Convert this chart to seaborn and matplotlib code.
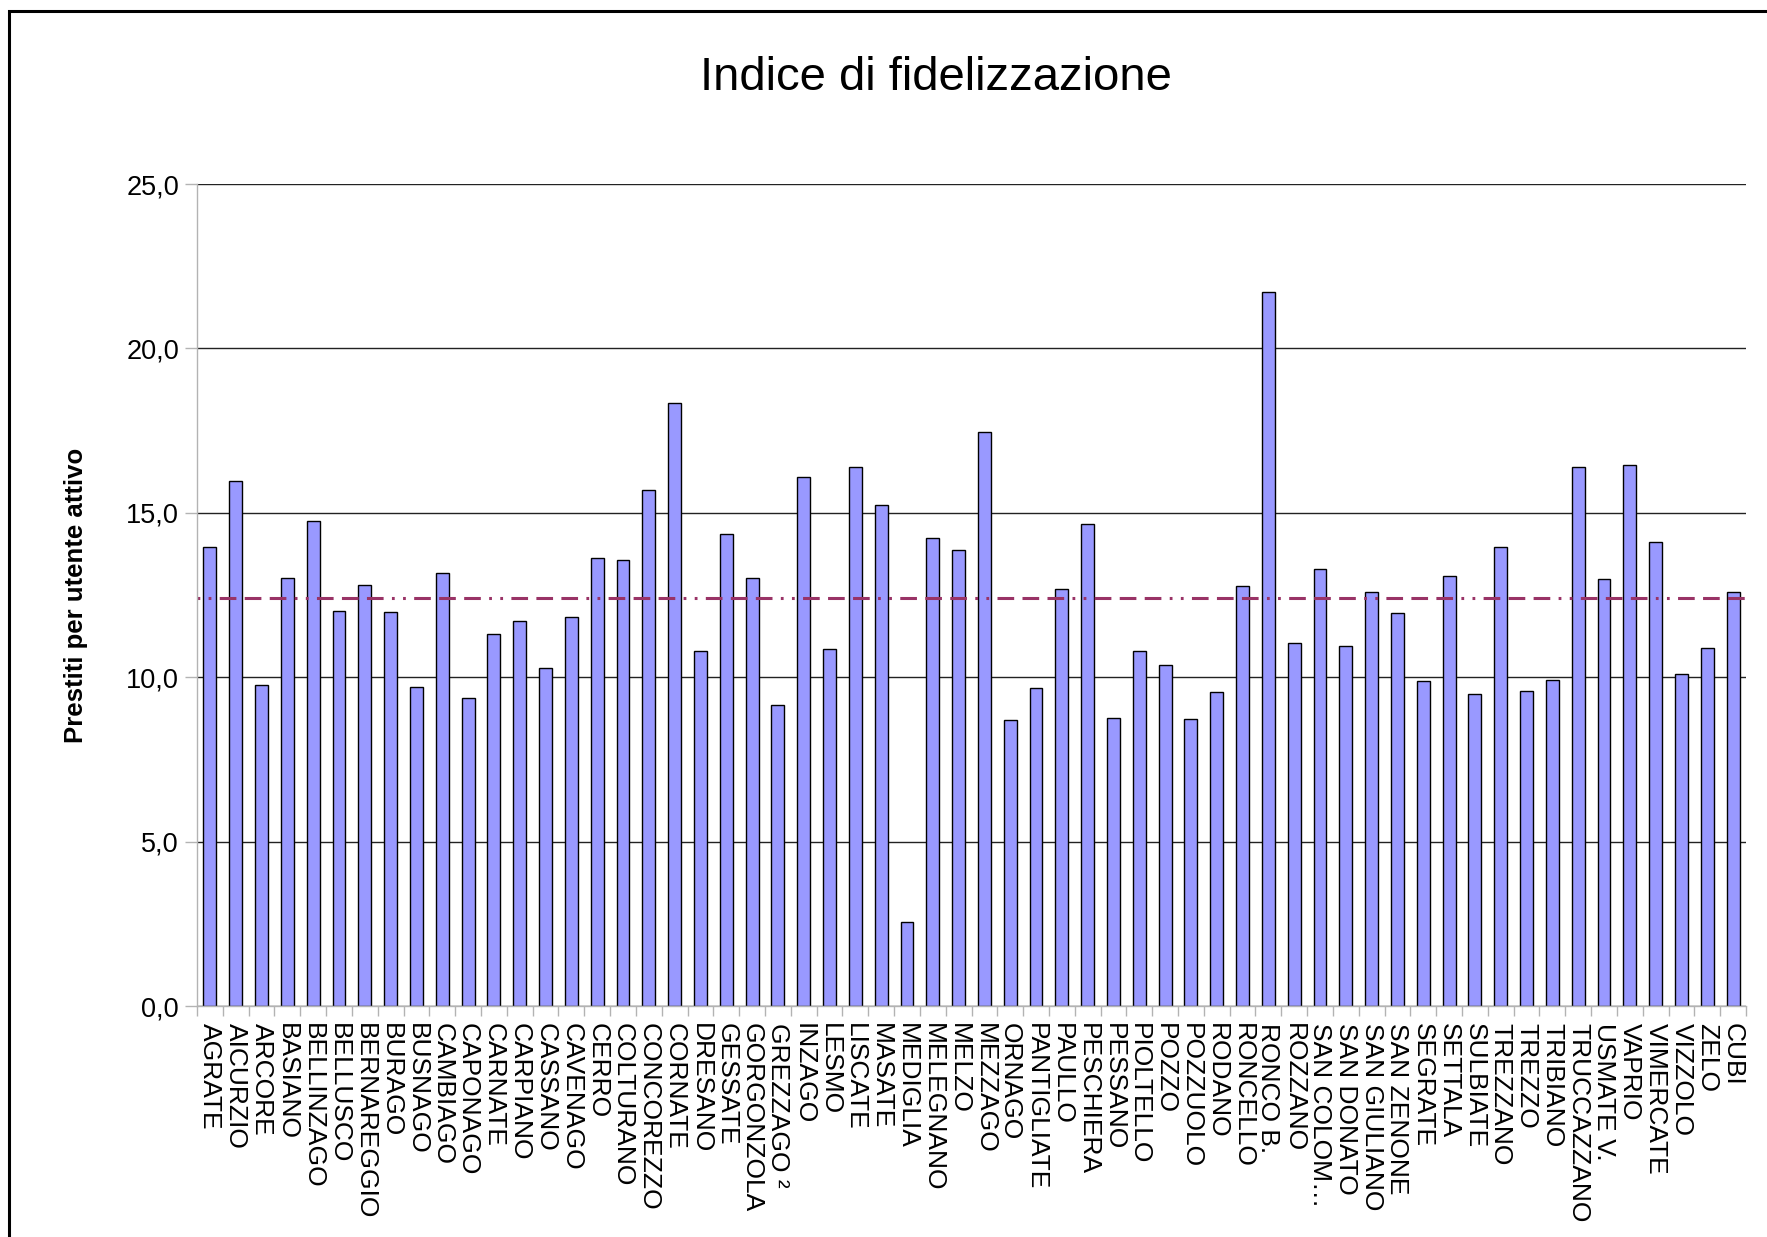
import matplotlib
matplotlib.use("Agg")
import matplotlib.pyplot as plt
from matplotlib.patches import Rectangle
from matplotlib.ticker import FuncFormatter, MultipleLocator, FixedLocator
import seaborn as sns

comuni = [
    "AGRATE", "AICURZIO", "ARCORE", "BASIANO", "BELLINZAGO", "BELLUSCO",
    "BERNAREGGIO", "BURAGO", "BUSNAGO", "CAMBIAGO", "CAPONAGO", "CARNATE",
    "CARPIANO", "CASSANO", "CAVENAGO", "CERRO", "COLTURANO", "CONCOREZZO",
    "CORNATE", "DRESANO", "GESSATE", "GORGONZOLA", "GREZZAGO ²", "INZAGO",
    "LESMO", "LISCATE", "MASATE", "MEDIGLIA", "MELEGNANO", "MELZO",
    "MEZZAGO", "ORNAGO", "PANTIGLIATE", "PAULLO", "PESCHIERA", "PESSANO",
    "PIOLTELLO", "POZZO", "POZZUOLO", "RODANO", "RONCELLO", "RONCO B.",
    "ROZZANO", "SAN COLOM…", "SAN DONATO", "SAN GIULIANO", "SAN ZENONE",
    "SEGRATE", "SETTALA", "SULBIATE", "TREZZANO", "TREZZO", "TRIBIANO",
    "TRUCCAZZANO", "USMATE V.", "VAPRIO", "VIMERCATE", "VIZZOLO", "ZELO",
    "CUBI",
]
indice = [
    13.95, 15.96, 9.76, 13.03, 14.74, 12.02,
    12.80, 11.99, 9.70, 13.17, 9.36, 11.32,
    11.72, 10.28, 11.83, 13.64, 13.57, 15.70,
    18.33, 10.80, 14.36, 13.03, 9.15, 16.08,
    10.85, 16.38, 15.23, 2.56, 14.23, 13.87,
    17.46, 8.69, 9.67, 12.68, 14.65, 8.76,
    10.80, 10.38, 8.73, 9.56, 12.77, 21.72,
    11.05, 13.29, 10.96, 12.60, 11.95,
    9.88, 13.07, 9.49, 13.95, 9.58, 9.90,
    16.38, 12.98, 16.45, 14.11, 10.10, 10.89,
    12.60,
]
media = 12.42

sns.set_style("white")
plt.rcParams["font.family"] = ["Liberation Sans", "DejaVu Sans"]
plt.rcParams["text.color"] = "black"
plt.rcParams["axes.labelcolor"] = "black"
plt.rcParams["lines.scale_dashes"] = False

W, H = 1767, 1237
fig = plt.figure(figsize=(W / 100, H / 100), dpi=100)
left, right, top, bottom = 197, 1746, 184, 1006
ax = fig.add_axes([left / W, 1 - bottom / H, (right - left) / W, (bottom - top) / H])

ax.yaxis.grid(True, color="#222222", linewidth=1.0)
ax.set_axisbelow(True)

sns.barplot(x=comuni, y=indice, color="#9999ff", saturation=1, width=0.5,
            edgecolor="black", linewidth=1.0, ax=ax)

# linea della media: punto, punto, tratto, tratto, tratto (in punti)
ax.axhline(media, color="#993366", linewidth=2.2,
           dashes=(2.0, 6.0, 2.0, 6.0, 12.0, 6.0, 12.0, 6.0, 12.0, 6.0))

ax.set_ylim(0, 25)
ax.set_xlim(-0.5, len(comuni) - 0.5)
ax.yaxis.set_major_locator(MultipleLocator(5))
ax.yaxis.set_major_formatter(FuncFormatter(lambda v, p: f"{v:.1f}".replace(".", ",")))

for s in ["top", "right"]:
    ax.spines[s].set_visible(False)
for s in ["left", "bottom"]:
    ax.spines[s].set_color("#b3b3b3")
    ax.spines[s].set_linewidth(1.0)

ax.tick_params(axis="y", left=True, length=9, width=1, color="#b3b3b3",
               labelsize=19.5, pad=4, labelcolor="black")
ax.tick_params(axis="x", which="major", length=0, labelsize=19, pad=12,
               labelcolor="black")
ax.xaxis.set_minor_locator(FixedLocator([i + 0.5 for i in range(-1, len(comuni))]))
ax.tick_params(axis="x", which="minor", bottom=True, length=7, width=1, color="#b3b3b3")
plt.setp(ax.get_xticklabels(), rotation=270, ha="center", va="top")

ax.set_xlabel("")
ax.set_ylabel("Prestiti per utente attivo", fontsize=18.5, fontweight="bold", color="black")
ax.yaxis.set_label_coords((88 - left) / (right - left), 0.5)

fig.text(936 / W, 1 - 78 / H, "Indice di fidelizzazione", fontsize=34,
         ha="center", va="center", color="black")

# cornice esterna
fig.patches.append(Rectangle((8.5 / W, -0.1), 1.2, 1.1 - 11 / H, fill=False,
                             edgecolor="black", linewidth=2.2,
                             transform=fig.transFigure, figure=fig))

fig.savefig("out.png", dpi=100, facecolor="white")
